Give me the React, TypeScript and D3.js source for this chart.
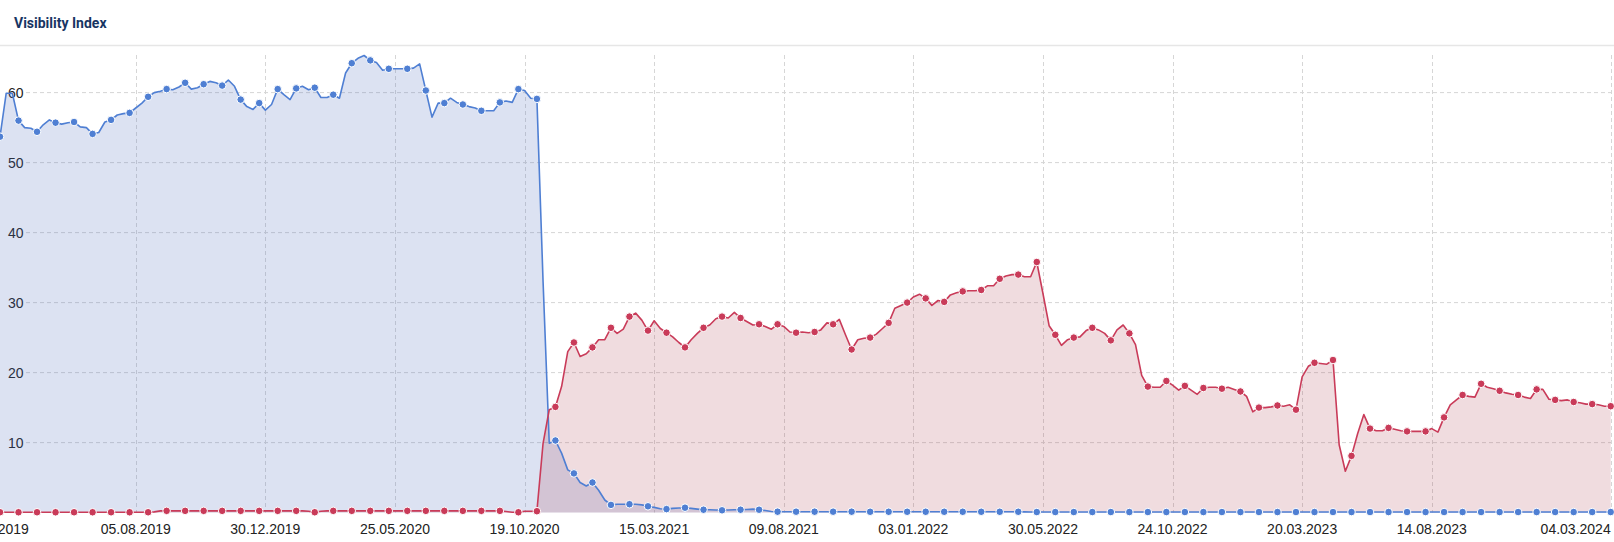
import React from "react";
import * as d3 from "d3";

// ---- DATA (weekly, starting Monday 04.03.2019) ----
const startDate = "2019-03-04";

const seriesBlue: number[] = [
  53.7, 59.9, 59.9, 56.0, 55.0, 54.9, 54.4, 55.4, 56.1, 55.7, 55.5, 55.7, 55.8, 55.1, 55.0, 54.1, 54.3, 55.8, 56.1, 56.8,
  57.0, 57.1, 57.8, 58.5, 59.4, 60.0, 60.2, 60.5, 60.4, 60.8, 61.4, 60.5, 60.7, 61.2, 61.6, 61.4, 61.0, 61.8, 60.9, 59.0,
  58.0, 57.6, 58.5, 57.5, 58.3, 60.5, 59.7, 59.0, 60.6, 60.9, 60.4, 60.7, 59.3, 59.3, 59.7, 59.2, 62.8, 64.2, 64.9, 65.3,
  64.6, 64.3, 63.2, 63.4, 63.4, 63.4, 63.4, 63.5, 64.1, 60.3, 56.5, 58.5, 58.5, 59.2, 58.6, 58.3, 58.0, 57.8, 57.4, 57.4,
  57.4, 58.6, 58.8, 58.6, 60.5, 60.3, 59.2, 59.1, 33.0, 9.9, 10.3, 8.5, 6.1, 5.6, 4.3, 3.8, 4.3, 3.2, 1.8, 1.1,
  1.2, 1.2, 1.2, 1.2, 1.1, 0.9, 0.75, 0.55, 0.5, 0.6, 0.65, 0.7, 0.6, 0.5, 0.41, 0.4, 0.38, 0.33, 0.38, 0.4,
  0.41, 0.45, 0.5, 0.41, 0.3, 0.15, 0.13, 0.13, 0.13, 0.13, 0.13, 0.13, 0.13, 0.13, 0.13, 0.13, 0.13, 0.13, 0.13, 0.13,
  0.12, 0.12, 0.12, 0.12, 0.12, 0.12, 0.12, 0.12, 0.12, 0.12, 0.12, 0.12, 0.12, 0.12, 0.12, 0.12, 0.12, 0.12, 0.12, 0.12,
  0.12, 0.12, 0.12, 0.12, 0.12, 0.12, 0.1, 0.08, 0.08, 0.08, 0.08, 0.08, 0.08, 0.08, 0.08, 0.08, 0.08, 0.08, 0.08, 0.08,
  0.08, 0.08, 0.08, 0.08, 0.08, 0.08, 0.08, 0.08, 0.08, 0.08, 0.08, 0.08, 0.08, 0.08, 0.08, 0.08, 0.08, 0.08, 0.08, 0.08,
  0.08, 0.08, 0.08, 0.08, 0.08, 0.08, 0.08, 0.08, 0.08, 0.08, 0.08, 0.08, 0.08, 0.08, 0.08, 0.08, 0.08, 0.08, 0.08, 0.08,
  0.08, 0.08, 0.08, 0.08, 0.08, 0.08, 0.08, 0.08, 0.08, 0.08, 0.08, 0.08, 0.08, 0.08, 0.08, 0.08, 0.08, 0.08, 0.08, 0.08,
  0.08, 0.08, 0.08, 0.08, 0.08, 0.08, 0.08, 0.08, 0.08, 0.08, 0.08, 0.08, 0.08, 0.08, 0.08, 0.08, 0.08, 0.08, 0.08, 0.08,
  0.08, 0.08,
];

const seriesRed: number[] = [
  0.05, 0.05, 0.05, 0.05, 0.05, 0.05, 0.05, 0.05, 0.05, 0.05, 0.05, 0.05, 0.05, 0.05, 0.05, 0.05, 0.05, 0.05, 0.05, 0.05,
  0.05, 0.05, 0.05, 0.05, 0.05, 0.1, 0.25, 0.25, 0.25, 0.25, 0.25, 0.25, 0.25, 0.25, 0.25, 0.25, 0.25, 0.25, 0.25, 0.25,
  0.25, 0.25, 0.25, 0.25, 0.25, 0.25, 0.25, 0.25, 0.25, 0.25, 0.2, 0.05, 0.2, 0.25, 0.25, 0.25, 0.25, 0.25, 0.25, 0.25,
  0.25, 0.25, 0.25, 0.25, 0.25, 0.25, 0.25, 0.25, 0.25, 0.25, 0.25, 0.25, 0.25, 0.25, 0.25, 0.25, 0.25, 0.25, 0.25, 0.25,
  0.25, 0.25, 0.15, 0.05, 0.05, 0.2, 0.2, 0.2, 9.9, 14.7, 15.1, 18.0, 23.0, 24.3, 22.3, 22.7, 23.6, 24.7, 24.7, 26.4,
  25.6, 26.2, 28.0, 28.5, 27.5, 26.0, 27.4, 26.3, 25.7, 25.1, 24.3, 23.6, 24.7, 25.6, 26.4, 26.8, 27.7, 28.0, 27.8, 28.6,
  27.8, 27.3, 26.8, 26.9, 26.6, 26.2, 26.9, 26.6, 25.8, 25.7, 25.8, 25.7, 25.8, 26.1, 27.1, 26.9, 27.6, 25.4, 23.3, 24.7,
  24.9, 25.0, 25.5, 26.3, 27.1, 29.2, 29.6, 30.0, 30.8, 31.2, 30.6, 29.6, 30.3, 30.1, 31.1, 31.4, 31.6, 31.7, 31.7, 31.8,
  32.4, 32.4, 33.4, 33.8, 34.0, 34.0, 33.7, 33.7, 35.8, 31.3, 26.7, 25.4, 23.9, 24.7, 25.0, 25.1, 26.0, 26.4, 26.1, 25.6,
  24.6, 26.1, 26.8, 25.6, 24.0, 19.6, 18.0, 17.9, 17.9, 18.8, 18.2, 17.5, 18.1, 17.5, 16.9, 17.8, 17.9, 17.9, 17.7, 17.9,
  17.6, 17.3, 16.6, 14.4, 15.0, 15.0, 15.1, 15.3, 15.2, 15.4, 14.7, 19.4, 20.9, 21.4, 21.3, 21.2, 21.8, 9.7, 5.9, 8.1,
  11.3, 14.0, 12.0, 11.7, 11.7, 12.1, 11.9, 11.7, 11.6, 11.6, 11.6, 11.6, 12.0, 11.5, 13.6, 15.4, 16.1, 16.8, 16.6, 16.5,
  18.4, 17.9, 17.7, 17.4, 17.1, 16.9, 16.8, 16.5, 16.3, 17.6, 17.6, 16.2, 16.1, 16.0, 16.1, 15.8, 15.7, 15.5, 15.5, 15.4,
  15.2, 15.2,
];

const xTickLabels: string[] = [
  "25.02.2019", "05.08.2019", "30.12.2019", "25.05.2020", "19.10.2020", "15.03.2021", "09.08.2021",
  "03.01.2022", "30.05.2022", "24.10.2022", "20.03.2023", "14.08.2023", "04.03.2024",
];
const yTickValues: number[] = [10, 20, 30, 40, 50, 60];
const title = "Visibility Index";

const BLUE = "#4f7fd3";
const RED = "#c93b59";

const W = 1614;
const H = 542;

function parseDMY(s: string): Date {
  const [d, m, y] = s.split(".").map(Number);
  return new Date(Date.UTC(y, m - 1, d));
}

export default function App() {
  const start = new Date(startDate + "T00:00:00Z");
  const dates = seriesBlue.map((_, i) => d3.utcDay.offset(start, 7 * i));
  const end = dates[dates.length - 1];

  const x = d3.scaleUtc().domain([start, end]).range([0, 1610.7]);
  const y = d3.scaleLinear().domain([0, 60]).range([512.6, 92.6]);

  const mk = (vals: number[]) => vals.map((v, i) => ({ d: dates[i], v, i }));
  const blue = mk(seriesBlue);
  const red = mk(seriesRed);

  const line = d3
    .line<{ d: Date; v: number }>()
    .x((p) => x(p.d))
    .y((p) => y(p.v));
  const area = d3
    .area<{ d: Date; v: number }>()
    .x((p) => x(p.d))
    .y0(y(0))
    .y1((p) => y(p.v));

  const ticks = xTickLabels.map((t) => ({ t, d: parseDMY(t) }));

  const series = [
    { data: blue, color: BLUE, fill: "rgba(80,110,190,0.2)" },
    { data: red, color: RED, fill: "rgba(170,60,80,0.18)" },
  ];

  return (
    <div style={{ position: "absolute", left: 0, top: 0 }}>
      <svg width={W} height={H} style={{ display: "block", background: "#fff" }}>
        <text x={14} y={28} fontFamily="Roboto, 'Open Sans', sans-serif" fontWeight={700} fontSize={14} fill="#173563">
          {title}
        </text>
        <line x1={0} x2={W} y1={45.5} y2={45.5} stroke="#e6e6e6" strokeWidth={1.5} />

        {/* horizontal grid */}
        {yTickValues.map((v) => (
          <line key={"hg" + v} x1={26} x2={W} y1={y(v)} y2={y(v)} stroke="#d6d6d6" strokeDasharray="4,3" strokeWidth={1} />
        ))}
        {/* vertical grid */}
        {ticks.map((tk) => (
          <line key={"vg" + tk.t} x1={Math.round(x(tk.d)) + 0.5} x2={Math.round(x(tk.d)) + 0.5} y1={55} y2={y(0)} stroke="#d6d6d6" strokeDasharray="4,3" strokeWidth={1} />
        ))}

        {/* y labels */}
        {yTickValues.map((v) => (
          <text key={"yl" + v} x={23.5} y={y(v) + 5} textAnchor="end" fontFamily="'Liberation Sans', Arial, sans-serif" fontSize={14} fill="#222">
            {v}
          </text>
        ))}

        {/* series */}
        {series.map((s, si) => (
          <g key={"s" + si}>
            <path d={area(s.data) || ""} fill={s.fill} stroke="none" />
          </g>
        ))}
        {series.map((s, si) => (
          <g key={"l" + si}>
            <path d={line(s.data) || ""} fill="none" stroke={s.color} strokeWidth={1.6} strokeLinejoin="round" />
            {s.data
              .filter((p) => p.i % 3 === 0)
              .map((p) => (
                <circle key={p.i} cx={x(p.d)} cy={y(p.v)} r={3.8} fill={s.color} stroke="#fff" strokeWidth={1} />
              ))}
          </g>
        ))}

        {/* x labels */}
        {ticks.map((tk, i) => (
          <text
            key={"xl" + tk.t}
            x={x(tk.d)}
            y={534.3}
            textAnchor={i === ticks.length - 1 ? "end" : "middle"}
            fontFamily="'Liberation Sans', Arial, sans-serif"
            fontSize={14}
            fill="#222"
          >
            {tk.t}
          </text>
        ))}
      </svg>
    </div>
  );
}
